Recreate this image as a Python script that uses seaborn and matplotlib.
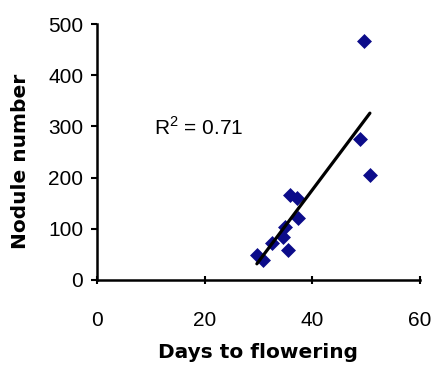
import numpy as np
import pandas as pd
import matplotlib
matplotlib.use("Agg")
import matplotlib.pyplot as plt
import seaborn as sns

# values
days = [49.6, 50.7, 48.9, 35.9, 37.2, 37.4, 34.9, 34.6, 32.5, 35.5, 29.7, 30.9]
nodules = [467, 205, 275, 166, 160, 121, 103, 84, 72, 59, 49, 39]
x_ticks = [0, 20, 40, 60]
y_ticks = [0, 100, 200, 300, 400, 500]
r2_label = "R$^2$ = 0.71"

df = pd.DataFrame({"days": days, "nodules": nodules})

sns.set_style("white")
plt.rcParams["font.family"] = ["Liberation Sans", "DejaVu Sans"]
plt.rcParams["mathtext.fontset"] = "custom"
plt.rcParams["mathtext.rm"] = "Liberation Sans"

fig = plt.figure(figsize=(4.37, 3.65), dpi=100)
ax = fig.add_axes([0.222, 0.233, 0.739, 0.701])

sns.regplot(data=df, x="days", y="nodules", ax=ax, ci=None, truncate=True,
            marker="D",
            scatter_kws={"s": 58, "color": "#0c0c8a", "alpha": 1,
                         "linewidths": 0, "zorder": 2},
            line_kws={"color": "black", "linewidth": 2.3, "zorder": 3})

ax.set_xlim(0, 60)
ax.set_ylim(0, 500)
ax.set_xticks(x_ticks)
ax.set_yticks(y_ticks)
ax.tick_params(axis="x", bottom=True, direction="inout", length=6, width=1.5,
               labelsize=15, pad=19, colors="black")
ax.tick_params(axis="y", left=True, direction="out", length=4, width=1.5,
               labelsize=15, pad=6, colors="black")

for side in ["top", "right"]:
    ax.spines[side].set_visible(False)
for side in ["left", "bottom"]:
    ax.spines[side].set_color("black")
    ax.spines[side].set_linewidth(1.8)

ax.set_xlabel("Days to flowering", fontsize=14.5, fontweight="bold",
              family="DejaVu Sans", labelpad=10, color="black")
ax.set_ylabel("Nodule number", fontsize=14.5, fontweight="bold",
              family="DejaVu Sans", color="black")
ax.yaxis.label.set_va("center")
ax.yaxis.set_label_coords(-0.238, 0.465)

ax.text(10.5, 297, r2_label, fontsize=15, va="center", ha="left", color="black")

fig.savefig("out.png", dpi=100)
